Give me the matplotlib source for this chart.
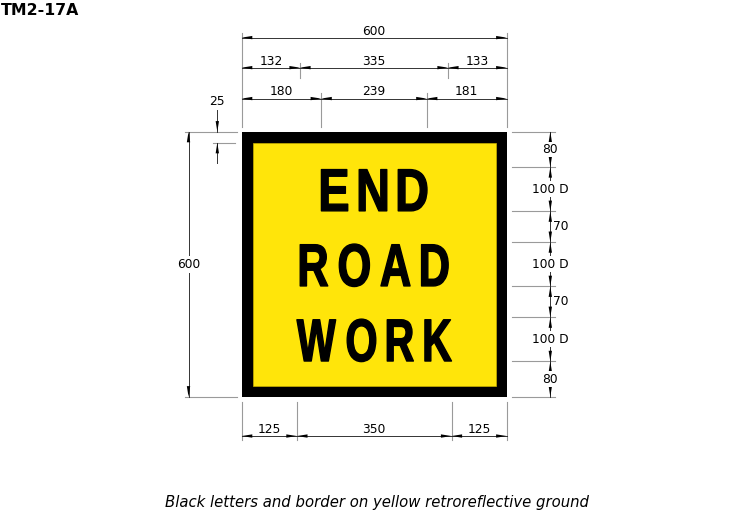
import matplotlib
matplotlib.use("Agg")
import numpy as np
import matplotlib.pyplot as plt
from matplotlib.patches import Rectangle, Polygon
from matplotlib.patheffects import AbstractPathEffect
from matplotlib.transforms import Affine2D
from matplotlib.path import Path
from matplotlib import font_manager

# sign data (mm)
sign_size = 600
border = 25
words = ["END", "ROAD", "WORK"]
word_top = [80, 250, 420]
word_width = [239, 335, 350]
letter_height = 100

# dimension data
top_row1 = [600]
top_row2 = [132, 335, 133]
top_row3 = [180, 239, 181]
bottom_row = [125, 350, 125]
right_steps = [80, 100, 70, 100, 70, 100, 80]
right_labels = ["80", "100 D", "70", "100 D", "70", "100 D", "80"]
left_total = 600
left_border = 25

title = "TM2-17A"
caption = "Black letters and border on yellow retroreflective ground"

# page scale: pixels per mm, sign top-left corner in pixels
k = 0.4417
x0_px, y0_px = 241.7, 131.7
W, H = 753, 512

EXT = "#9a9a9a"
DIM = "#333333"
AR_LEN, AR_W = 24, 3.8
DFS = 8.8


class SignLetters(AbstractPathEffect):
    """narrow the glyphs so the word fills a given width with a fixed letter gap"""
    def __init__(self, target_px, gap_px, get_cx, thicken=1.0):
        super().__init__()
        self.target = target_px
        self.gap = gap_px
        self.get_cx = get_cx
        self.thicken = thicken

    def draw_path(self, renderer, gc, tpath, affine, rgbFace=None):
        v = affine.transform(tpath.vertices)
        codes = tpath.codes
        starts = list(np.where(codes == Path.MOVETO)[0]) + [len(codes)]
        iv = []
        for a, b in zip(starts[:-1], starts[1:]):
            m = codes[a:b] != Path.CLOSEPOLY
            xs = v[a:b, 0][m]
            iv.append((xs.min(), xs.max(), a, b))
        iv.sort()
        groups = []
        for lo, hi, a, b in iv:
            if groups and lo < groups[-1][1]:
                groups[-1][1] = max(groups[-1][1], hi)
                groups[-1][2].append((a, b))
            else:
                groups.append([lo, hi, [(a, b)]])
        raw = [g[1] - g[0] for g in groups]
        sx = (self.target - self.gap * (len(groups) - 1)) / sum(raw)
        x = self.get_cx() - self.target / 2
        nv = v.copy()
        for g, w in zip(groups, raw):
            for a, b in g[2]:
                nv[a:b, 0] = x + (v[a:b, 0] - g[0]) * sx
            x += w * sx + self.gap
        gc0 = renderer.new_gc()
        gc0.copy_properties(gc)
        gc0.set_linewidth(self.thicken)
        gc0.set_foreground("black")
        renderer.draw_path(gc0, Path(nv, codes), Affine2D(), rgbFace)
        gc0.restore()


def sign_font():
    for name in ["Liberation Sans Narrow", "Liberation Sans", "DejaVu Sans"]:
        try:
            font_manager.findfont(name, fallback_to_default=False)
            return name
        except Exception:
            pass
    return "DejaVu Sans"


def arrow(ax, x, y, dx, dy):
    # tip at (x, y), pointing along (dx, dy)
    bx, by = x - dx * AR_LEN, y - dy * AR_LEN
    px, py = -dy * AR_W, dx * AR_W
    ax.add_patch(Polygon([(x, y), (bx + px, by + py), (bx - px, by - py)],
                         closed=True, fc="black", ec="none", zorder=5))


def hdim(ax, x_start, widths, y):
    xs = [x_start]
    for w in widths:
        xs.append(xs[-1] + w)
    ax.plot([xs[0], xs[-1]], [y, y], color=DIM, lw=0.7, zorder=3)
    for i, w in enumerate(widths):
        a, b = xs[i], xs[i + 1]
        arrow(ax, a, y, -1, 0)
        arrow(ax, b, y, 1, 0)
        ax.text((a + b) / 2, y - 7, str(w), ha="center", va="baseline",
                fontsize=DFS, family="DejaVu Sans", zorder=6)
    return xs


fig = plt.figure(figsize=(W / 100, H / 100), dpi=100)
ax = fig.add_axes([0, 0, 1, 1])
ax.set_xlim(-x0_px / k, (W - x0_px) / k)
ax.set_ylim((H - y0_px) / k, -y0_px / k)
ax.axis("off")

# sign
ax.add_patch(Rectangle((0, 0), sign_size, sign_size, fc="black", ec="none", zorder=1))
ax.add_patch(Rectangle((border, border), sign_size - 2 * border, sign_size - 2 * border,
                       fc="#FFE50A", ec="#C9B000", lw=0.5, zorder=2))

fam = sign_font()
cap_ratio = 0.716
fs = (letter_height * k - 1.2) / cap_ratio * 0.72
for w, t, tw in zip(words, word_top, word_width):
    txt = ax.text(sign_size / 2, t + letter_height - 0.8, w, ha="center", va="baseline",
                  fontsize=fs, fontweight="bold", family=fam, color="black", zorder=4)
    txt.set_path_effects([SignLetters(tw * k, 11.5,
                                      lambda: ax.transData.transform((sign_size / 2, 0))[0])])

# top dimensions
ax.plot([0, 0], [-223, -10], color=EXT, lw=0.8)
ax.plot([sign_size, sign_size], [-223, -10], color=EXT, lw=0.8)
hdim(ax, 0, top_row1, -213)
xs2 = hdim(ax, 0, top_row2, -145)
for x in xs2[1:-1]:
    ax.plot([x, x], [-155, -121], color=EXT, lw=0.8)
xs3 = hdim(ax, 0, top_row3, -75)
for x in xs3[1:-1]:
    ax.plot([x, x], [-87, -10], color=EXT, lw=0.8)

# bottom dimensions
xs_b = [0]
for w in bottom_row:
    xs_b.append(xs_b[-1] + w)
for x in xs_b:
    ax.plot([x, x], [611, 698], color=EXT, lw=0.8)
hdim(ax, 0, bottom_row, 689)

# right dimensions
ys = [0]
for s in right_steps:
    ys.append(ys[-1] + s)
xr = 698.7
for y in ys:
    ax.plot([611, 709], [y, y], color=EXT, lw=0.8)
ax.plot([xr, xr], [ys[0], ys[-1]], color=DIM, lw=0.7, zorder=3)
for i, lab in enumerate(right_labels):
    a, b = ys[i], ys[i + 1]
    arrow(ax, xr, a, 0, -1)
    arrow(ax, xr, b, 0, 1)
    if lab == "70":
        ax.text(705, (a + b) / 2, lab, ha="left", va="center",
                fontsize=DFS, family="DejaVu Sans", zorder=6)
    else:
        ax.text(xr, (a + b) / 2, lab, ha="center", va="center",
                fontsize=DFS, family="DejaVu Sans", zorder=6,
                bbox=dict(fc="white", ec="none", pad=1.0))

# left dimensions
xl = -120.4
ax.plot([-128, -11], [0, 0], color=EXT, lw=0.8)
ax.plot([-128, -11], [left_total, left_total], color=EXT, lw=0.8)
ax.plot([xl, xl], [0, left_total], color=DIM, lw=0.7, zorder=3)
arrow(ax, xl, 0, 0, -1)
arrow(ax, xl, left_total, 0, 1)
ax.text(xl, left_total / 2, str(left_total), ha="center", va="center",
        fontsize=DFS, family="DejaVu Sans", zorder=6,
        bbox=dict(fc="white", ec="none", pad=1.5))

x25 = -55.2
ax.plot([-65, -15], [left_border, left_border], color=EXT, lw=0.8)
ax.plot([x25, x25], [-49, 0], color=DIM, lw=0.7)
arrow(ax, x25, 0, 0, 1)
ax.plot([x25, x25], [left_border, 71], color=DIM, lw=0.7)
arrow(ax, x25, left_border, 0, -1)
ax.text(x25, -69, str(left_border), ha="center", va="center",
        fontsize=DFS, family="DejaVu Sans")

# title and caption
fig.text(1 / W, 1 - 3 / H, title, ha="left", va="top", fontsize=11.3,
         fontweight="bold", family="DejaVu Sans")
fig.text(377 / W, 1 - 503 / H, caption, ha="center", va="center", fontsize=10.7,
         style="italic", family="DejaVu Sans")

fig.savefig("out.png", dpi=100)
